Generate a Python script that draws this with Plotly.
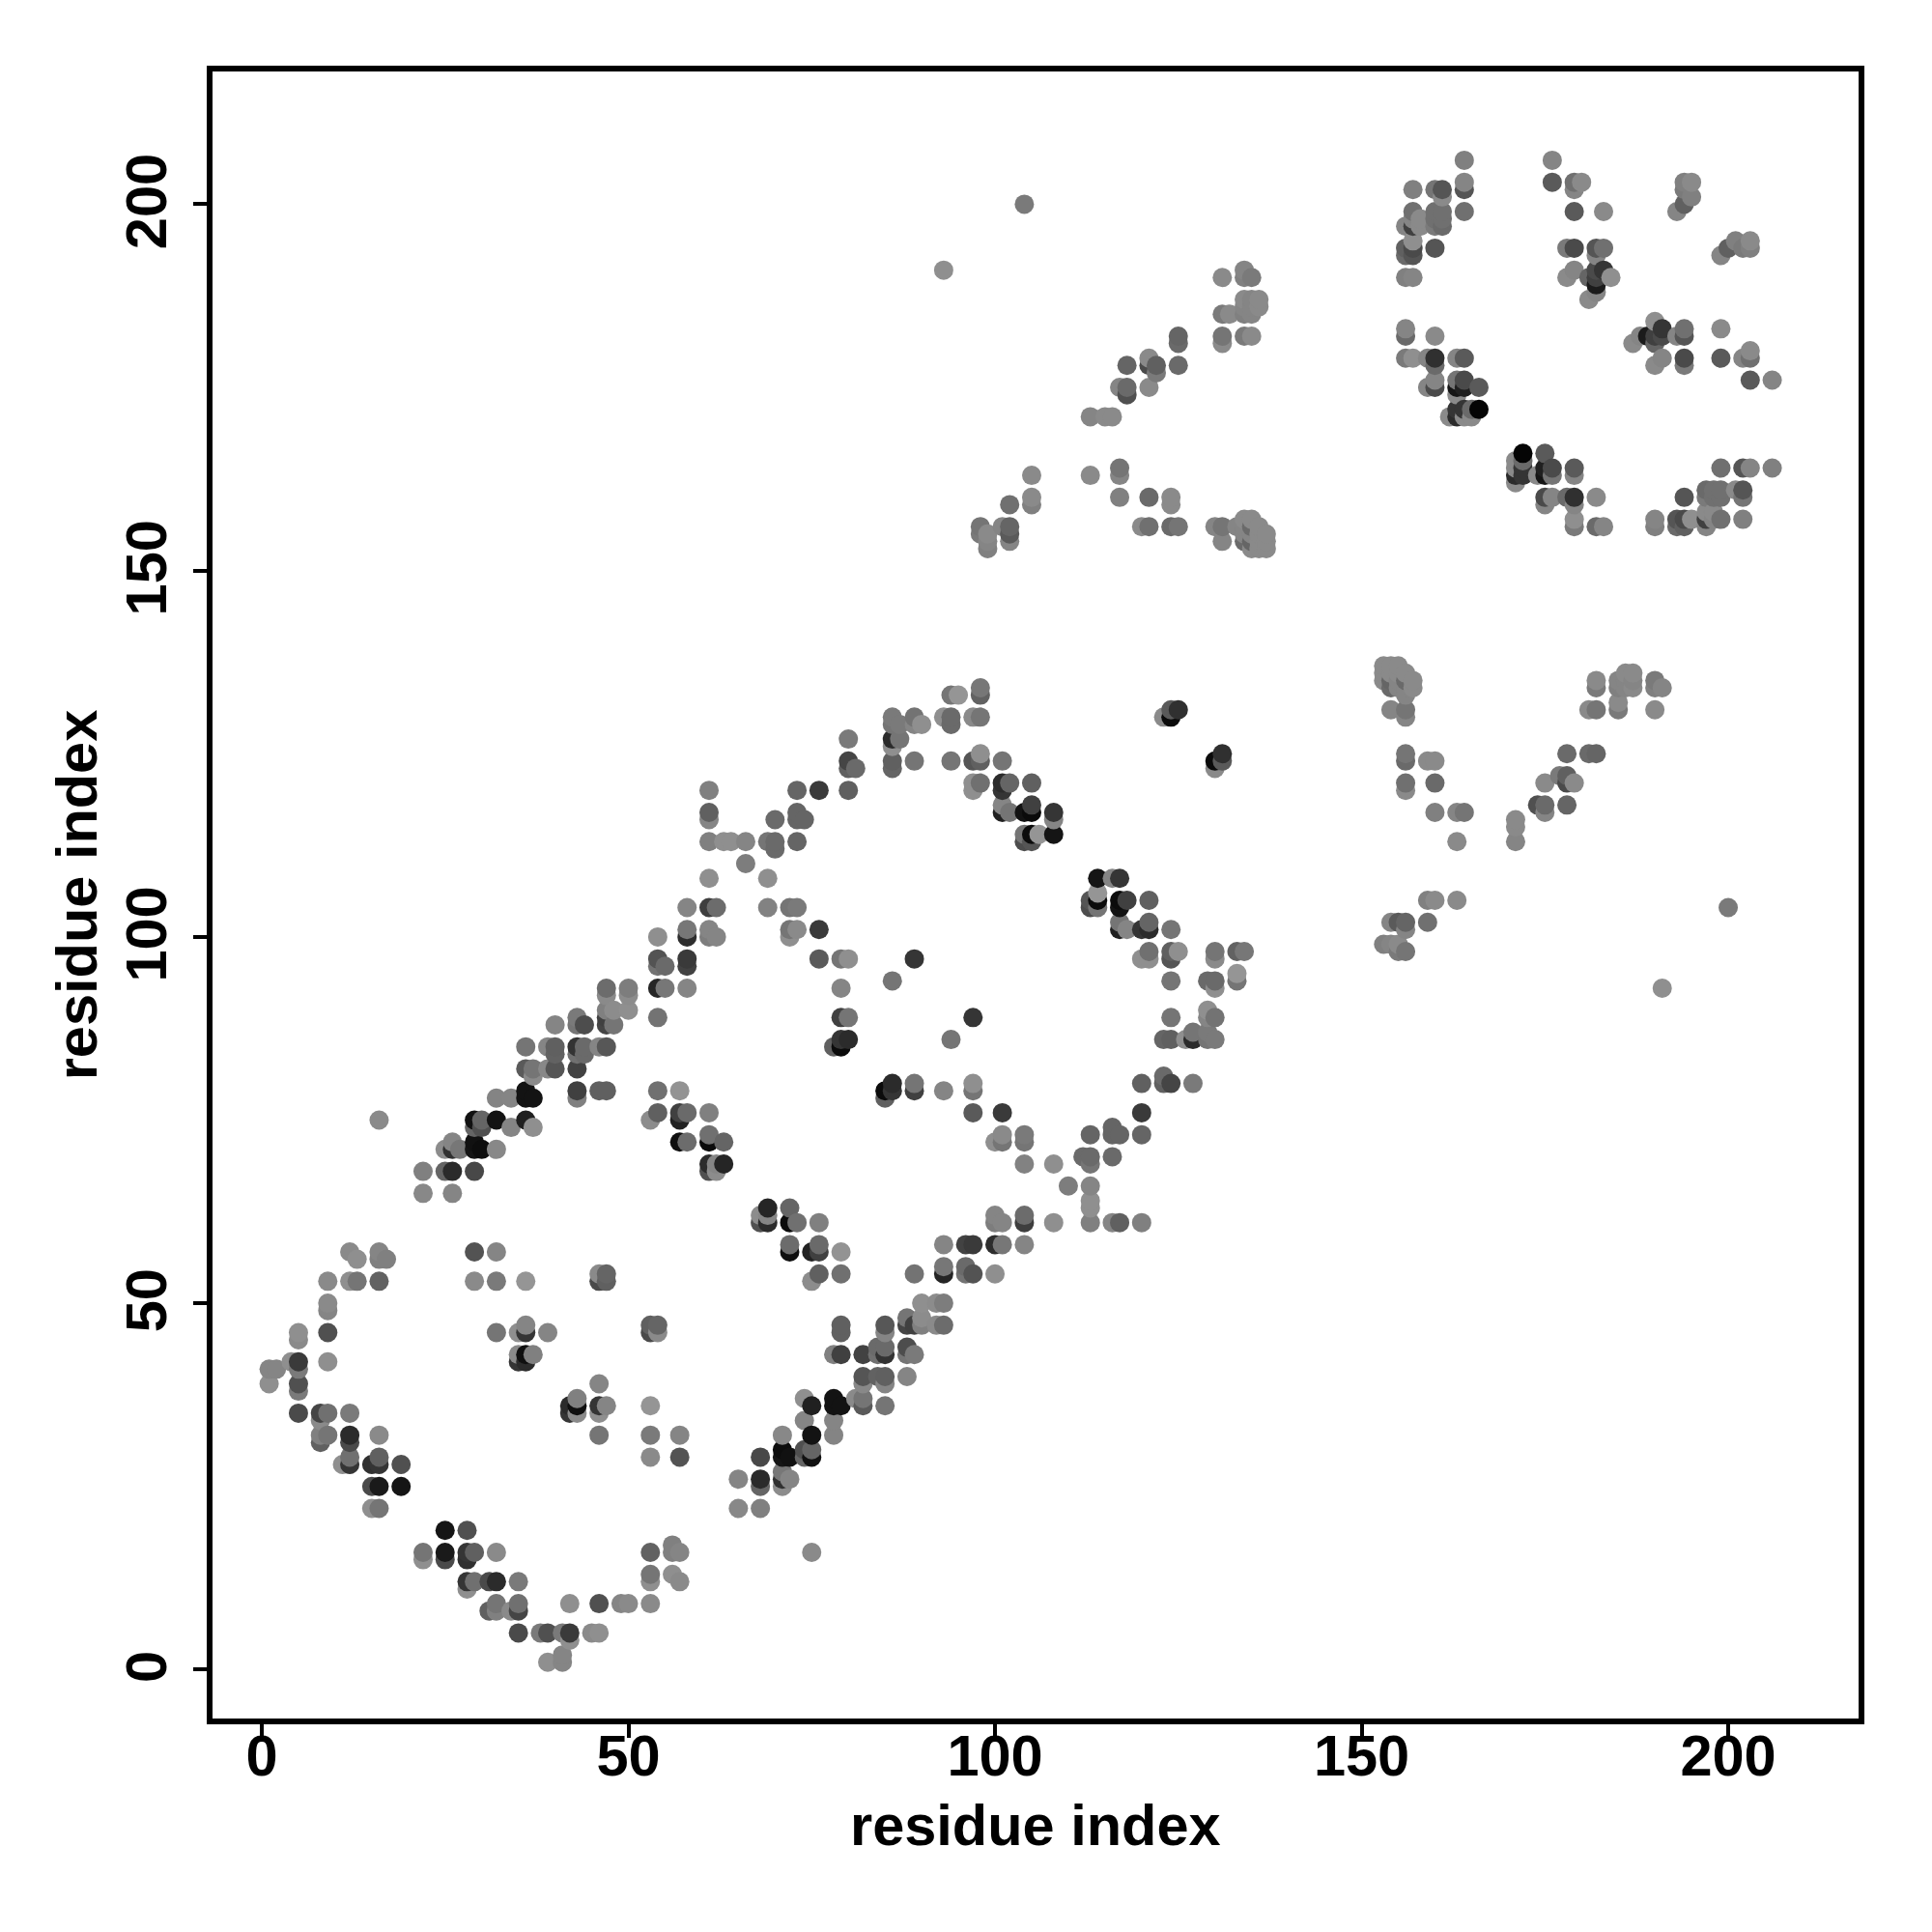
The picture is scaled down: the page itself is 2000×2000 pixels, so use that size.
import plotly.graph_objects as go

# contacts as (residue i, residue j, shade); the map is symmetric about the diagonal
contacts_low = [
 (1,39,135),(1,41,125),(2,41,125),(4,42,135),(5,35,70),(5,38,115),(5,39,75),(5,41,115),(5,42,55),(5,45,130),(5,46,135),
 (8,31,90),(8,32,120),(8,34,130),(8,35,65),(9,32,110),(9,35,105),(9,42,135),(9,46,75),(9,49,125),(9,50,130),(9,53,130),
 (11,28,135),(12,28,50),(12,29,105),(12,31,70),(12,32,40),(12,35,115),(12,53,135),(12,57,130),(13,53,110),(13,56,135),
 (15,22,135),(15,25,70),(15,28,45),(16,22,110),(16,25,24),(16,28,50),(16,29,90),(16,32,130),(16,53,92),(16,56,120),(16,57,125),(16,75,130),(17,56,120),(19,25,20),(19,28,75),
 (22,65,128),(22,68,120),(25,68,95),(25,71,132),(26,65,125),(26,68,40),(26,71,45),(26,72,125),(27,71,112),
 (29,53,130),(29,57,78),(29,68,68),(29,71,20),(29,72,16),(29,74,95),(29,75,16),
]
contacts_mid = [
 (30,71,12),(30,74,75),(30,75,95),(32,46,110),(32,53,115),(32,57,125),(32,71,128),(32,75,18),(32,78,124),(34,74,125),(34,78,125),
 (35,42,50),(35,43,130),(35,46,135),(36,42,40),(36,43,14),(36,46,50),(36,47,125),(36,53,140),(36,75,30),(36,78,18),(36,79,18),(36,82,85),(36,85,110),
 (37,43,120),(37,74,135),(37,78,18),(37,81,130),(37,82,110),(39,46,125),(39,82,128),(39,85,125),
 (40,82,80),(40,84,92),(40,85,90),(40,88,125),(43,78,120),(43,79,60),(43,82,62),(43,84,105),(43,85,48),(43,88,110),(43,89,115),
 (44,84,100),(44,85,100),(44,88,72),(46,53,70),(46,54,130),(46,79,90),(46,85,125),
 (47,53,90),(47,54,95),(47,79,90),(47,85,82),(47,88,65),(47,89,60),(47,90,120),(47,92,130),(47,93,102),(48,88,110),(48,90,132),
 (50,90,135),(50,92,132),(50,93,118),
]
contacts_high = [
 (53,75,132),(54,76,90),(54,79,105),(54,89,108),(54,93,35),(54,96,108),(54,97,78),(54,100,135),(55,93,112),(55,96,100),
 (57,72,14),(57,75,32),(57,76,60),(57,79,138),(58,72,102),(58,76,100),(58,93,125),(58,96,62),(58,97,55),(58,100,42),(58,101,112),(58,104,125),
 (61,68,75),(61,69,40),(61,72,10),(61,73,105),(61,76,120),(61,100,118),(61,101,125),(61,104,58),(61,108,135),(61,113,120),(61,116,125),(61,117,90),(61,120,120),
 (62,68,132),(62,69,125),(62,100,125),(62,104,102),(63,69,35),(63,72,95),(63,113,135),(64,113,135),(66,110,118),(66,113,125),(69,104,122),(69,108,135),(69,113,110),(70,112,100),(70,113,100),(70,116,100),
 (72,100,135),(72,101,110),(72,104,110),(73,101,130),(73,104,115),(73,113,95),(73,116,95),(73,117,95),(73,120,95),(74,116,95),(76,97,85),(76,101,55),(76,120,55),
 (78,85,90),(79,85,10),(79,86,50),(79,89,60),(79,93,125),(79,97,110),
]
contacts_loop = [
 (80,86,40),(80,89,110),(80,97,135),(80,120,90),(80,123,90),(80,124,65),(80,127,115),(81,123,100),
 (86,94,110),(86,123,95),(86,124,90),(86,126,135),(86,127,40),(86,129,110),(86,130,115),(87,127,110),(87,129,115),
 (89,97,50),(89,124,110),(89,129,125),(89,130,108),(90,129,135),(93,130,135),(94,124,110),(94,129,100),(94,130,100),(94,133,110),(95,133,140),
 (97,120,135),(97,121,135),(97,124,80),(97,130,130),(98,121,105),(98,124,90),(98,125,135),(98,130,110),(98,133,92),(98,134,112),
 (101,117,30),(101,118,125),(101,120,50),(101,121,40),(101,124,110),(102,117,110),(102,121,95),
 (104,113,72),(104,114,110),(104,117,18),(105,113,80),(105,114,10),(105,117,10),(105,118,60),(105,121,90),(106,114,140),(108,114,20),(108,116,125),(108,117,50),
 (123,130,130),(124,130,10),(124,131,85),(125,131,45),
]
contacts_far = [
 (93,191,135),(104,200,115),
 (131,190,130),(134,191,125),(134,190,120),(135,190,115),(134,187,130),(135,187,125),(136,187,130),(134,186,125),(135,186,125),(136,186,130),(131,185,115),(132,185,130),(134,185,120),(135,185,125),(131,182,110),(134,182,115),(135,182,130),(131,181,130),
 (125,182,95),(125,181,100),(125,178,100),(118,178,95),(121,179,130),(121,178,70),(122,178,90),(122,177,115),(117,175,125),(118,175,100),(121,175,130),(118,174,75),(113,171,125),(115,171,130),(116,171,130),
 (105,163,130),(113,163,130),(117,164,110),(117,163,125),(105,160,130),(105,159,120),(102,159,105),(117,160,120),(121,160,100),(124,160,130),(124,159,130),
 (98,156,110),(98,155,115),(99,155,130),(99,154,125),(99,153,120),(101,156,125),(102,156,95),(102,155,85),(102,154,125),(120,156,130),(121,156,105),(124,156,100),(125,156,110),(130,156,125),(131,156,110),(131,154,125),(133,156,125),(134,156,125),(135,156,100),(136,156,130),(134,157,130),(135,157,130),(134,155,125),(135,155,125),(136,155,130),(137,155,130),(134,154,100),(135,154,95),(136,154,130),(137,154,130),(135,153,130),(136,153,130),(137,153,130),
]
contacts_top = [
 (164,206,120),(176,206,125),(164,203,125),(176,203,85),(179,203,105),(180,203,130),(194,203,120),(195,203,130),(157,202,120),(160,202,110),(161,202,80),(164,202,80),(179,202,125),(194,202,115),(195,201,120),(161,201,130),(194,200,90),(193,199,125),(179,199,85),(183,199,130),(164,199,105),(157,199,105),(160,199,105),(161,199,105),(158,198,130),(160,198,105),(161,198,105),(157,198,125),(156,197,125),(157,197,60),(158,197,130),(160,197,115),(161,197,100),(156,194,90),(157,194,70),(157,195,135),(160,194,80),(178,194,115),(179,194,70),(182,194,80),(183,194,105),(156,193,100),(157,193,80),(182,193,125),(156,190,120),(157,190,125),(178,190,130),(179,191,125),(181,190,95),(182,190,60),(182,191,70),(183,191,50),(184,190,135),(182,189,25),(182,188,125),(181,187,130),
 (156,183,125),(156,182,100),(160,182,130),(156,179,115),(157,179,135),(159,179,125),(160,179,45),(163,179,125),(164,179,85),(160,178,100),(160,176,125),(163,176,110),(164,176,70),(159,175,125),(160,175,70),(163,175,20),(164,175,30),(166,175,85),(163,174,130),(166,172,5),(163,172,50),(164,172,50),(165,172,100),(162,171,130),(163,171,40),(164,171,130),(165,171,130),
]
tick_values = [0, 50, 100, 150, 200]
axis_label = "residue index"

all_contacts = contacts_low + contacts_mid + contacts_high + contacts_loop + contacts_far + contacts_top
points = sorted([(i, j, s) for i, j, s in all_contacts] + [(j, i, s) for i, j, s in all_contacts])
xs = [p[0] for p in points]
ys = [p[1] for p in points]
shades = [p[2] for p in points]

fig = go.Figure(go.Scatter(
    x=xs, y=ys, mode="markers", hoverinfo="skip", cliponaxis=False,
    marker=dict(size=20, color=shades, cmin=0, cmax=240,
                colorscale=[[0, "rgb(0,0,0)"], [1, "rgb(255,255,255)"]],
                showscale=False, line=dict(width=0)),
))

font = dict(family="Liberation Sans", size=59.5, color="black", weight=700)
axis = dict(
    tickvals=tick_values, ticktext=[str(v) for v in tick_values], ticks="outside", ticklen=14, tickwidth=4,
    tickcolor="black", tickfont=font, showgrid=False, zeroline=False,
    showline=True, mirror=True, linewidth=5.5, linecolor="black",
)
fig.update_layout(
    width=2000, height=2000, autosize=False, showlegend=False,
    paper_bgcolor="white", plot_bgcolor="white",
    margin=dict(l=212.3, r=83.7, t=66.2, b=228.8),
    xaxis={**axis, "range": [-6.72, 217.78], "ticklabelstandoff": -32},
    yaxis={**axis, "range": [-6.68, 218.12], "tickangle": -90, "ticklabelstandoff": 4,
           "ticklabelshift": 6, "title": dict(text=axis_label, font=font, standoff=1)},
    annotations=[dict(text=axis_label, font=font, showarrow=False, xref="paper", yref="paper",
                      x=0.5, y=0, xanchor="center", yanchor="middle", yshift=-110)],
)
fig.write_html("out.html", config={"displayModeBar": False})
